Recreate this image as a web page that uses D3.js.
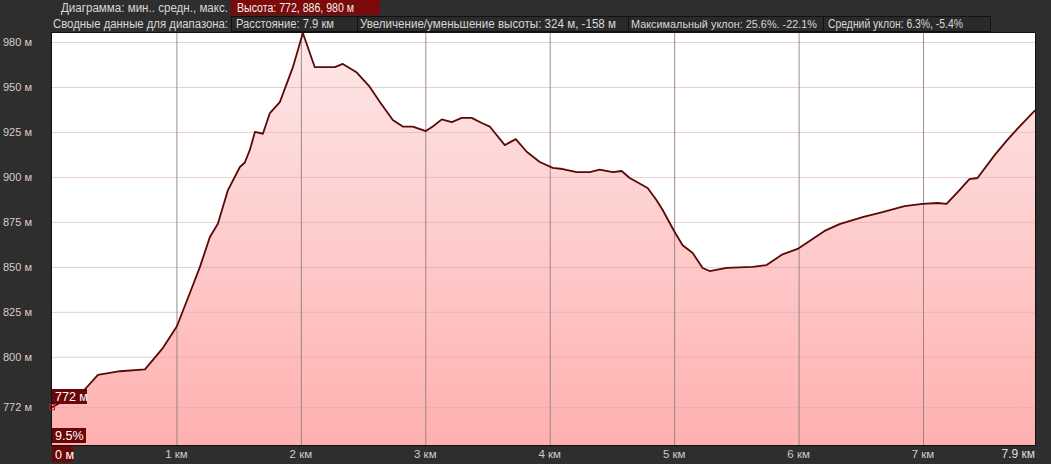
<!DOCTYPE html>
<html>
<head>
<meta charset="utf-8">
<script src="https://cdn.jsdelivr.net/npm/d3@7.9.0/dist/d3.min.js"></script>
<style>
  html, body { margin: 0; padding: 0; background: #2e2e2e; overflow: hidden; }
  svg { display: block; font-family: "Liberation Sans", Arial, sans-serif; }
</style>
</head>
<body>
<svg id="chart" width="1051" height="464"></svg>
<script>
// Elevation profile: distance (km) and elevation (m)
const distKm = [0, 0.265, 0.369, 0.546, 0.747, 0.892, 1.004, 1.108, 1.189, 1.269, 1.333, 1.414, 1.51, 1.55, 1.59,
  1.631, 1.695, 1.751, 1.831, 1.936, 2.016, 2.112, 2.273, 2.337, 2.45, 2.554, 2.635, 2.739, 2.819, 2.9,
  3.004, 3.06, 3.133, 3.213, 3.293, 3.373, 3.454, 3.518, 3.639, 3.727, 3.815, 3.92, 4.024, 4.104, 4.217,
  4.321, 4.402, 4.506, 4.578, 4.643, 4.787, 4.859, 4.908, 5.004, 5.068, 5.149, 5.229, 5.285, 5.422, 5.631,
  5.743, 5.871, 5.992, 6.209, 6.329, 6.514, 6.675, 6.851, 6.996, 7.116, 7.189, 7.293, 7.373, 7.438, 7.574,
  7.671, 7.775, 7.9];
const elevM = [772, 782, 790, 792, 793, 805, 817, 835.5, 850, 866.6, 874, 892.7, 905.5, 908, 915,
  925, 924, 935.5, 941.6, 961, 980, 961, 961, 962.8, 958, 950, 941.6, 931.6, 928, 928,
  925.5, 928, 932, 930.5, 932.8, 932.8, 930, 928, 917.7, 921, 914, 908.3, 905, 904.4, 902.7,
  902.7, 904, 902.7, 903.3, 899.4, 893.8, 887, 881.6, 869.4, 862, 857.7, 849.4, 847.7, 849.4, 850,
  851, 857, 860, 870, 873.8, 877.7, 880.5, 883.8, 885, 885.5, 885, 892.7, 898.8, 899.4, 912,
  920, 928, 937];

// Axis ticks
const yTicks = [772, 800, 825, 850, 875, 900, 925, 950, 975];
const yTickLabels = ['772 м', '800 м', '825 м', '850 м', '875 м', '900 м', '925 м', '950 м', '980 м'];
const xTicks = [1, 2, 3, 4, 5, 6, 7];
const xTickLabels = ['1 км', '2 км', '3 км', '4 км', '5 км', '6 км', '7 км'];

// Header summary
const headerLabel1 = 'Диаграмма: мин.. средн., макс.';
const headerBox1 = 'Высота: 772, 886, 980 м';
const headerLabel2 = 'Сводные данные для диапазона:';
const headerBoxes2 = ['Расстояние: 7.9 км', 'Увеличение/уменьшение высоты: 324 м, -158 м',
  'Максимальный уклон: 25.6%. -22.1%', 'Средний уклон: 6.3%, -5.4%'];

// Cursor readout
const cursorKm = 0, cursorElev = 772;
const cursorElevLabel = '772 м', cursorGrade = '9.5%', cursorDist = '0 м', endDist = '7.9 км';

const data = distKm.map((d, i) => ({ d, e: elevM[i] }));

const svg = d3.select('#chart');
const plot = { left: 52, right: 1035, top: 33, bottom: 445 };

const x = d3.scaleLinear().domain([0, 7.9]).range([plot.left, plot.right]);
const y = d3.scaleLinear().domain([751, 980]).range([plot.bottom, plot.top]);

const defs = svg.append('defs');
const grad = defs.append('linearGradient').attr('id', 'fillGrad')
  .attr('gradientUnits', 'userSpaceOnUse')
  .attr('x1', 0).attr('x2', 0)
  .attr('y1', plot.top).attr('y2', plot.bottom);
grad.append('stop').attr('offset', 0).attr('stop-color', '#fde8e8');
grad.append('stop').attr('offset', 1).attr('stop-color', '#ffb0b0');

// Plot background
svg.append('rect')
  .attr('x', plot.left).attr('y', plot.top)
  .attr('width', plot.right - plot.left).attr('height', plot.bottom - plot.top)
  .attr('fill', '#ffffff');

// Area
const area = d3.area().x(d => x(d.d)).y0(plot.bottom).y1(d => y(d.e));
svg.append('path').datum(data).attr('d', area).attr('fill', 'url(#fillGrad)');

// Gridlines
svg.append('g')
  .attr('transform', `translate(${plot.left},0)`)
  .call(d3.axisLeft(y).tickValues(yTicks).tickFormat('').tickSize(-(plot.right - plot.left)))
  .call(g => g.select('.domain').remove())
  .call(g => g.selectAll('line').attr('stroke', '#d9a8a8').attr('stroke-opacity', 0.55));

svg.append('g')
  .attr('transform', `translate(0,${plot.top})`)
  .call(d3.axisTop(x).tickValues(xTicks).tickFormat('').tickSize(-(plot.bottom - plot.top)))
  .call(g => g.select('.domain').remove())
  .call(g => g.selectAll('line').attr('stroke', '#8a7a7a').attr('stroke-opacity', 0.85));

// Profile line
const line = d3.line().x(d => x(d.d)).y(d => y(d.e));
svg.append('path').datum(data).attr('d', line)
  .attr('fill', 'none').attr('stroke', '#5a0808').attr('stroke-width', 1.8)
  .attr('stroke-linejoin', 'round');

// Plot border
svg.append('rect')
  .attr('x', plot.left - 0.5).attr('y', plot.top - 0.5)
  .attr('width', plot.right - plot.left + 1).attr('height', plot.bottom - plot.top + 1)
  .attr('fill', 'none').attr('stroke', '#111');

// Y labels
svg.append('g').selectAll('text').data(yTicks).join('text')
  .attr('x', 3).attr('y', d => y(d)).attr('dy', '0.35em')
  .attr('font-size', 11.5).attr('fill', '#dccaca')
  .attr('textLength', 29).attr('lengthAdjust', 'spacingAndGlyphs')
  .text((d, i) => yTickLabels[i]);

// X labels
svg.append('g').selectAll('text').data(xTicks).join('text')
  .attr('x', d => x(d)).attr('y', 454).attr('dy', '0.35em')
  .attr('text-anchor', 'middle')
  .attr('font-size', 11.5).attr('fill', '#cccccc')
  .text((d, i) => xTickLabels[i]);
svg.append('text').attr('x', plot.right).attr('y', 454).attr('dy', '0.35em')
  .attr('text-anchor', 'end').attr('font-size', 12)
  .attr('fill', '#dddddd').text(endDist);

// Readout boxes
function redBox(x0, y0, w, h, label) {
  svg.append('rect').attr('x', x0).attr('y', y0).attr('width', w).attr('height', h)
    .attr('fill', '#6a0606');
  svg.append('text').attr('x', x0 + 3).attr('y', y0 + h / 2).attr('dy', '0.36em')
    .attr('font-size', 12.5).attr('fill', '#ffffff').text(label);
}
redBox(plot.left, 389, 35, 15, cursorElevLabel);
redBox(plot.left, 428, 34, 15, cursorGrade);
redBox(plot.left, 446, 21, 16, cursorDist);
svg.append('rect')
  .attr('x', x(cursorKm) - 2.5).attr('y', y(cursorElev) - 2.5)
  .attr('width', 5).attr('height', 5)
  .attr('fill', 'none').attr('stroke', '#b02020').attr('stroke-width', 1);

// Header (text widths fitted to the reference's boxes)
const header = svg.append('g');
function headerText(t, x0, yc, w, color, fs) {
  header.append('text').attr('x', x0).attr('y', yc).attr('dy', '0.35em')
    .attr('font-size', fs)
    .attr('textLength', w).attr('lengthAdjust', 'spacingAndGlyphs')
    .attr('fill', color).text(t);
}
headerText(headerLabel1, 61, 8, 167, '#d8d8d8', 12.5);
header.append('rect').attr('x', 231).attr('y', 0).attr('width', 149).attr('height', 15)
  .attr('fill', '#7c0a0a');
headerText(headerBox1, 237, 8, 117, '#f0f0f0', 12.5);

headerText(headerLabel2, 53, 24, 175, '#d8d8d8', 12.5);
const boxEdges = [231, 357, 628, 823, 990];
const boxTextX = [236, 360, 631, 828];
const boxTextW = [98, 256, 186, 135];
const boxFont = [12.5, 12.5, 11.5, 12.5];
headerBoxes2.forEach((t, i) => {
  header.append('rect').attr('x', boxEdges[i] + 0.5).attr('y', 16.5)
    .attr('width', boxEdges[i + 1] - boxEdges[i]).attr('height', 15)
    .attr('fill', '#2a2a2a').attr('stroke', '#111');
  headerText(t, boxTextX[i], 24, boxTextW[i], '#d8d8d8', boxFont[i]);
});
</script>
</body>
</html>
